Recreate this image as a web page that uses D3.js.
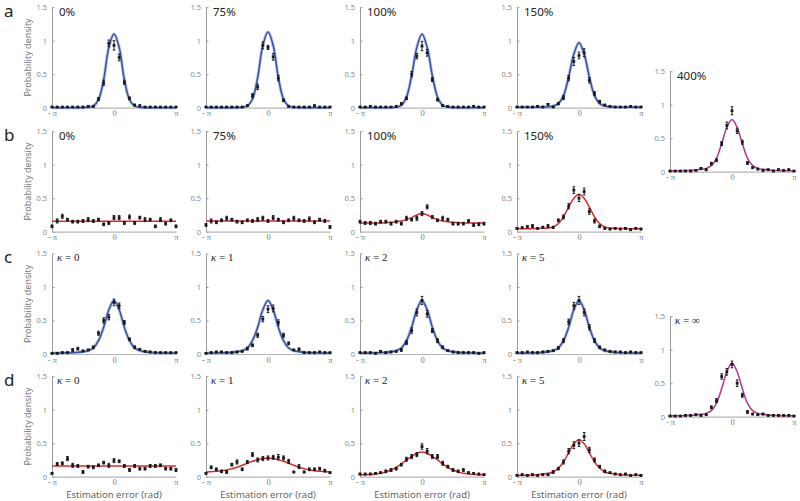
<!DOCTYPE html>
<html><head><meta charset="utf-8">
<script src="https://cdn.jsdelivr.net/npm/d3@7"></script>
<style>
body{margin:0;background:#fff;}
svg{display:block;}
</style></head>
<body>
<svg id="chart" width="800" height="501"></svg>
<script>
// ---------- DATA ----------
const xTickValues = [-Math.PI, 0, Math.PI];
const xTickLabels = ["- π", "0", "π"];
const yTickValues = [0, 0.5, 1, 1.5];
const yTickLabels = ["0", "0.5", "1", "1.5"];
// 25 bin centres from -π to π
const binCount = 25;
const bins = d3.range(binCount).map(i => -Math.PI + i * 2 * Math.PI / (binCount - 1));

const rowLetters = ["a", "b", "c", "d"];
const titlesAB = ["0%", "75%", "100%", "150%"];
const kappaValues = ["0", "1", "2", "5"];
const titleTop5 = "400%";
const kappaBot5 = "∞";
const yLabel = "Probability density";
const xLabel = "Estimation error (rad)";

// row a (blue)
const a0Pts = [0.01,0.01,0.01,0.01,0.01,0.01,0.01,0.02,0.02,0.13,0.37,0.96,0.93,0.75,0.38,0.14,0.04,0.03,0.01,0.01,0.01,0.01,0.01,0.01,0.01];
const a0Err = [0.005,0.005,0.005,0.005,0.005,0.005,0.005,0.01,0.01,0.02,0.04,0.05,0.07,0.05,0.03,0.02,0.01,0.01,0.005,0.005,0.005,0.005,0.005,0.005,0.005];
const a0Fit = [0,0,0,0,0,0,0.001,0.004,0.025,0.12,0.42,0.9,1.10,0.9,0.42,0.12,0.025,0.004,0.001,0,0,0,0,0,0];

const a1Pts = [0.01,0.01,0.01,0.01,0.01,0.01,0.01,0.01,0.03,0.18,0.31,0.93,0.90,0.76,0.44,0.11,0.02,0.01,0.01,0.01,0.01,0.03,0.01,0.01,0.01];
const a1Err = [0.005,0.005,0.005,0.005,0.005,0.005,0.005,0.005,0.01,0.03,0.04,0.05,0.03,0.05,0.04,0.02,0.01,0.005,0.005,0.005,0.005,0.01,0.005,0.005,0.005];
const a1Fit = [0,0,0,0,0,0,0.001,0.004,0.025,0.13,0.45,0.93,1.13,0.93,0.45,0.13,0.025,0.004,0.001,0,0,0,0,0,0];

const a2Pts = [0.01,0.01,0.02,0.01,0.01,0.01,0.01,0.02,0.06,0.14,0.50,0.77,0.92,0.82,0.42,0.12,0.03,0.02,0.01,0.01,0.01,0.01,0.02,0.01,0.01];
const a2Err = [0.005,0.005,0.01,0.005,0.005,0.005,0.005,0.01,0.015,0.02,0.04,0.04,0.07,0.05,0.03,0.02,0.01,0.01,0.005,0.005,0.005,0.005,0.01,0.005,0.005];
const a2Fit = [0,0,0,0,0,0,0.002,0.007,0.035,0.16,0.48,0.9,1.10,0.9,0.48,0.16,0.035,0.007,0.002,0,0,0,0,0,0];

const a3Pts = [0.01,0.01,0.01,0.01,0.02,0.01,0.05,0.01,0.06,0.15,0.44,0.69,0.78,0.82,0.41,0.21,0.09,0.04,0.02,0.01,0.01,0.01,0.02,0.01,0.01];
const a3Err = [0.005,0.005,0.005,0.005,0.01,0.005,0.01,0.005,0.015,0.03,0.04,0.06,0.05,0.06,0.04,0.03,0.02,0.01,0.01,0.005,0.005,0.005,0.01,0.005,0.005];
const a3Fit = [0.005,0.005,0.005,0.005,0.006,0.008,0.012,0.025,0.06,0.18,0.46,0.8,0.97,0.8,0.46,0.18,0.06,0.025,0.012,0.008,0.006,0.005,0.005,0.005,0.005];

// row b (red)
const b0Pts = [0.08,0.16,0.23,0.18,0.15,0.15,0.16,0.18,0.16,0.18,0.11,0.13,0.21,0.21,0.13,0.22,0.13,0.21,0.18,0.18,0.08,0.18,0.12,0.17,0.08];
const b0Err = [0.02,0.03,0.03,0.02,0.02,0.02,0.02,0.03,0.02,0.02,0.02,0.02,0.03,0.03,0.02,0.03,0.02,0.02,0.03,0.02,0.02,0.03,0.02,0.02,0.02];
const b0Fit = [0.155,0.155,0.155,0.155,0.155,0.155,0.155,0.155,0.155,0.155,0.155,0.155,0.155,0.155,0.155,0.155,0.155,0.155,0.155,0.155,0.155,0.155,0.155,0.155,0.155];

const b1Pts = [0.10,0.16,0.14,0.17,0.20,0.18,0.15,0.14,0.17,0.16,0.18,0.20,0.16,0.21,0.18,0.14,0.17,0.20,0.17,0.16,0.19,0.14,0.18,0.16,0.07];
const b1Err = [0.02,0.03,0.02,0.02,0.03,0.02,0.02,0.02,0.02,0.02,0.03,0.03,0.02,0.03,0.02,0.02,0.02,0.03,0.02,0.02,0.03,0.02,0.02,0.02,0.02];
const b1Fit = [0.16,0.16,0.16,0.16,0.16,0.16,0.16,0.16,0.16,0.16,0.16,0.16,0.16,0.16,0.16,0.16,0.16,0.16,0.16,0.16,0.16,0.16,0.16,0.16,0.16];

const b2Pts = [0.15,0.13,0.13,0.12,0.15,0.15,0.12,0.15,0.12,0.20,0.18,0.20,0.27,0.37,0.22,0.17,0.20,0.18,0.12,0.12,0.12,0.16,0.10,0.11,0.12];
const b2Err = [0.02,0.02,0.02,0.02,0.02,0.02,0.02,0.02,0.02,0.03,0.02,0.03,0.03,0.03,0.02,0.02,0.03,0.02,0.02,0.02,0.02,0.02,0.02,0.02,0.02];
const b2Fit = [0.13,0.13,0.13,0.13,0.13,0.135,0.14,0.15,0.16,0.18,0.21,0.25,0.27,0.25,0.21,0.18,0.16,0.15,0.14,0.135,0.13,0.13,0.13,0.13,0.13];

const b3Pts = [0.05,0.06,0.075,0.085,0.05,0.065,0.085,0.065,0.17,0.22,0.38,0.62,0.50,0.60,0.30,0.16,0.08,0.05,0.04,0.05,0.04,0.05,0.03,0.05,0.04];
const b3Err = [0.01,0.01,0.015,0.02,0.01,0.015,0.02,0.015,0.02,0.03,0.04,0.05,0.05,0.05,0.04,0.03,0.02,0.01,0.01,0.01,0.01,0.01,0.01,0.01,0.01];
const b3Fit = [0.045,0.045,0.045,0.046,0.048,0.05,0.055,0.07,0.12,0.22,0.37,0.5,0.56,0.5,0.37,0.22,0.12,0.07,0.055,0.05,0.048,0.046,0.045,0.045,0.045];

// row c (blue)
const c0Pts = [0.01,0.01,0.02,0.02,0.06,0.08,0.045,0.06,0.10,0.31,0.50,0.55,0.77,0.72,0.47,0.22,0.10,0.07,0.04,0.03,0.02,0.02,0.02,0.02,0.02];
const c0Err = [0.005,0.005,0.01,0.01,0.02,0.02,0.01,0.01,0.02,0.03,0.04,0.04,0.05,0.04,0.03,0.02,0.02,0.01,0.01,0.01,0.01,0.005,0.005,0.005,0.005];
const c0Fit = [0.015,0.015,0.016,0.018,0.02,0.025,0.035,0.05,0.09,0.2,0.4,0.66,0.8,0.66,0.4,0.2,0.09,0.05,0.035,0.025,0.02,0.018,0.016,0.015,0.015];

const c1Pts = [0.01,0.02,0.03,0.03,0.02,0.02,0.03,0.04,0.08,0.13,0.28,0.52,0.67,0.68,0.47,0.28,0.16,0.06,0.07,0.02,0.02,0.02,0.03,0.02,0.02];
const c1Err = [0.005,0.01,0.01,0.01,0.01,0.01,0.01,0.01,0.02,0.02,0.03,0.04,0.05,0.05,0.04,0.03,0.02,0.01,0.02,0.01,0.01,0.01,0.01,0.01,0.005];
const c1Fit = [0.015,0.015,0.016,0.018,0.02,0.025,0.035,0.05,0.09,0.2,0.4,0.66,0.8,0.66,0.4,0.2,0.09,0.05,0.035,0.025,0.02,0.018,0.016,0.015,0.015];

const c2Pts = [0.02,0.02,0.02,0.01,0.04,0.02,0.03,0.04,0.06,0.17,0.35,0.62,0.80,0.60,0.35,0.20,0.10,0.05,0.03,0.02,0.02,0.02,0.02,0.01,0.02];
const c2Err = [0.01,0.01,0.01,0.005,0.01,0.01,0.01,0.01,0.02,0.03,0.04,0.05,0.06,0.05,0.03,0.03,0.02,0.01,0.01,0.01,0.01,0.01,0.01,0.005,0.01];
const c2Fit = [0.015,0.015,0.016,0.018,0.02,0.025,0.035,0.05,0.09,0.2,0.4,0.66,0.8,0.66,0.4,0.2,0.09,0.05,0.035,0.025,0.02,0.018,0.016,0.015,0.015];

const c3Pts = [0.02,0.02,0.03,0.02,0.02,0.03,0.04,0.05,0.09,0.20,0.48,0.72,0.80,0.62,0.40,0.20,0.10,0.06,0.04,0.03,0.03,0.02,0.03,0.02,0.02];
const c3Err = [0.01,0.01,0.01,0.01,0.01,0.01,0.01,0.01,0.02,0.03,0.04,0.05,0.06,0.05,0.04,0.03,0.02,0.01,0.01,0.01,0.01,0.01,0.01,0.01,0.01];
const c3Fit = [0.015,0.015,0.016,0.018,0.02,0.025,0.035,0.05,0.09,0.2,0.4,0.66,0.8,0.66,0.4,0.2,0.09,0.05,0.035,0.025,0.02,0.018,0.016,0.015,0.015];

// row d (red)
const d0Pts = [0.05,0.19,0.20,0.27,0.17,0.16,0.07,0.15,0.14,0.17,0.21,0.17,0.24,0.23,0.16,0.10,0.16,0.12,0.12,0.16,0.16,0.17,0.12,0.12,0.10];
const d0Err = [0.01,0.02,0.02,0.03,0.03,0.02,0.02,0.02,0.02,0.02,0.02,0.03,0.03,0.02,0.02,0.02,0.02,0.02,0.02,0.02,0.02,0.02,0.02,0.02,0.02];
const d0Fit = [0.16,0.16,0.16,0.16,0.16,0.16,0.16,0.16,0.16,0.16,0.16,0.16,0.16,0.16,0.16,0.16,0.16,0.16,0.16,0.16,0.16,0.16,0.16,0.16,0.16];

const d1Pts = [0.05,0.14,0.11,0.08,0.07,0.18,0.22,0.11,0.22,0.33,0.25,0.27,0.28,0.29,0.29,0.28,0.23,0.07,0.15,0.07,0.11,0.11,0.12,0.09,0.06];
const d1Err = [0.01,0.02,0.02,0.02,0.02,0.02,0.03,0.02,0.02,0.03,0.03,0.03,0.03,0.03,0.04,0.03,0.03,0.01,0.03,0.01,0.02,0.02,0.02,0.02,0.01];
const d1Fit = [0.07,0.075,0.08,0.09,0.10,0.12,0.14,0.17,0.20,0.23,0.255,0.27,0.275,0.27,0.255,0.23,0.20,0.17,0.14,0.12,0.10,0.09,0.08,0.075,0.07];

const d2Pts = [0.04,0.04,0.04,0.05,0.06,0.08,0.10,0.12,0.18,0.26,0.30,0.33,0.45,0.38,0.30,0.30,0.20,0.15,0.10,0.08,0.10,0.06,0.05,0.04,0.03];
const d2Err = [0.01,0.01,0.01,0.01,0.01,0.02,0.02,0.02,0.02,0.03,0.03,0.03,0.04,0.04,0.03,0.03,0.03,0.02,0.02,0.02,0.02,0.01,0.01,0.01,0.01];
const d2Fit = [0.03,0.03,0.035,0.04,0.05,0.07,0.10,0.14,0.19,0.25,0.30,0.35,0.37,0.35,0.30,0.25,0.19,0.14,0.10,0.07,0.05,0.04,0.035,0.03,0.03];

const d3Pts = [0.02,0.03,0.02,0.03,0.02,0.03,0.03,0.07,0.12,0.22,0.38,0.47,0.50,0.60,0.40,0.25,0.15,0.08,0.06,0.04,0.03,0.04,0.02,0.03,0.02];
const d3Err = [0.01,0.01,0.01,0.01,0.01,0.01,0.01,0.02,0.02,0.03,0.04,0.05,0.05,0.06,0.04,0.03,0.02,0.02,0.01,0.01,0.01,0.01,0.01,0.01,0.01];
const d3Fit = [0.02,0.02,0.022,0.025,0.03,0.04,0.05,0.07,0.13,0.22,0.36,0.49,0.55,0.49,0.36,0.22,0.13,0.07,0.05,0.04,0.03,0.025,0.022,0.02,0.02];

// column 5 (magenta)
const eTopPts = [0.01,0.01,0.01,0.01,0.01,0.02,0.05,0.03,0.12,0.17,0.42,0.69,0.91,0.61,0.44,0.13,0.06,0.04,0.02,0.03,0.01,0.03,0.02,0.03,0.01];
const eTopErr = [0.005,0.005,0.005,0.005,0.005,0.01,0.01,0.01,0.02,0.02,0.03,0.05,0.06,0.04,0.03,0.02,0.01,0.01,0.01,0.01,0.005,0.01,0.01,0.01,0.005];
const eTopFit = [0.015,0.015,0.016,0.018,0.02,0.025,0.035,0.05,0.09,0.2,0.42,0.66,0.78,0.66,0.42,0.2,0.09,0.05,0.035,0.025,0.02,0.018,0.016,0.015,0.015];

const eBotPts = [0.01,0.01,0.01,0.02,0.02,0.03,0.02,0.03,0.14,0.24,0.60,0.67,0.78,0.50,0.32,0.07,0.04,0.03,0.04,0.02,0.02,0.02,0.02,0.02,0.01];
const eBotErr = [0.005,0.005,0.005,0.01,0.01,0.01,0.01,0.01,0.02,0.03,0.04,0.05,0.05,0.05,0.03,0.02,0.01,0.01,0.01,0.01,0.01,0.01,0.01,0.01,0.005];
const eBotFit = [0.015,0.015,0.016,0.018,0.02,0.025,0.035,0.05,0.09,0.2,0.42,0.67,0.8,0.67,0.42,0.2,0.09,0.05,0.035,0.025,0.02,0.018,0.016,0.015,0.015];

// ---------- STYLE / LAYOUT ----------
const BLUE = "#3a51a2", BLUE_BAND = "#bcc6ea", RED = "#e02a2e", MAGENTA = "#b2388d";
const colX = [52, 206, 360, 517, 670];
const rowY0 = [107.7, 231.7, 354, 476.7];
const col5Y0 = [171.7, 416.7];
const PW = 124, PH = 100.5;

const panels = [
  {col:0,row:0,title:titlesAB[0],color:BLUE,band:true,pts:a0Pts,err:a0Err,fit:a0Fit},
  {col:1,row:0,title:titlesAB[1],color:BLUE,band:true,pts:a1Pts,err:a1Err,fit:a1Fit},
  {col:2,row:0,title:titlesAB[2],color:BLUE,band:true,pts:a2Pts,err:a2Err,fit:a2Fit},
  {col:3,row:0,title:titlesAB[3],color:BLUE,band:true,pts:a3Pts,err:a3Err,fit:a3Fit},
  {col:0,row:1,title:titlesAB[0],color:RED,band:false,pts:b0Pts,err:b0Err,fit:b0Fit},
  {col:1,row:1,title:titlesAB[1],color:RED,band:false,pts:b1Pts,err:b1Err,fit:b1Fit},
  {col:2,row:1,title:titlesAB[2],color:RED,band:false,pts:b2Pts,err:b2Err,fit:b2Fit},
  {col:3,row:1,title:titlesAB[3],color:RED,band:false,pts:b3Pts,err:b3Err,fit:b3Fit},
  {col:0,row:2,kappa:kappaValues[0],color:BLUE,band:true,pts:c0Pts,err:c0Err,fit:c0Fit},
  {col:1,row:2,kappa:kappaValues[1],color:BLUE,band:true,pts:c1Pts,err:c1Err,fit:c1Fit},
  {col:2,row:2,kappa:kappaValues[2],color:BLUE,band:true,pts:c2Pts,err:c2Err,fit:c2Fit},
  {col:3,row:2,kappa:kappaValues[3],color:BLUE,band:true,pts:c3Pts,err:c3Err,fit:c3Fit},
  {col:0,row:3,kappa:kappaValues[0],color:RED,band:false,pts:d0Pts,err:d0Err,fit:d0Fit},
  {col:1,row:3,kappa:kappaValues[1],color:RED,band:false,pts:d1Pts,err:d1Err,fit:d1Fit},
  {col:2,row:3,kappa:kappaValues[2],color:RED,band:false,pts:d2Pts,err:d2Err,fit:d2Fit},
  {col:3,row:3,kappa:kappaValues[3],color:RED,band:false,pts:d3Pts,err:d3Err,fit:d3Fit},
  {col:4,row:-1,y0:col5Y0[0],title:titleTop5,color:MAGENTA,band:false,pts:eTopPts,err:eTopErr,fit:eTopFit},
  {col:4,row:-2,y0:col5Y0[1],kappa:kappaBot5,color:MAGENTA,band:false,pts:eBotPts,err:eBotErr,fit:eBotFit}
];

const svg = d3.select("#chart");
const SANS = "'Noto Sans', 'Open Sans', sans-serif";
const SERIF = "'Liberation Serif', 'DejaVu Serif', serif";

// row letters
rowLetters.forEach((L, r) => {
  svg.append("text").attr("x", 4).attr("y", rowY0[r] - 91)
    .attr("font-family", SANS).attr("font-size", 17).attr("fill", "#222").text(L);
});

panels.forEach(p => {
  const x0 = colX[p.col];
  const yBase = p.row >= 0 ? rowY0[p.row] : p.y0;
  const x = d3.scaleLinear().domain([-Math.PI, Math.PI]).range([x0, x0 + PW]);
  const y = d3.scaleLinear().domain([0, 1.5]).range([yBase, yBase - PH]);
  const g = svg.append("g");

  // y axis
  const ya = g.append("g").attr("transform", `translate(${x0},0)`)
    .call(d3.axisLeft(y).tickValues(yTickValues).tickSize(-2.5).tickSizeOuter(0).tickPadding(5)
      .tickFormat((d, i) => yTickLabels[i]));
  ya.select(".domain").attr("stroke", "#9a9a9a");
  ya.selectAll(".tick line").attr("stroke", "#9a9a9a");
  ya.selectAll(".tick text").attr("fill", "#8a8a8a").attr("font-size", 7.5).attr("font-family", SANS);

  // x axis
  const xa = g.append("g").attr("transform", `translate(0,${yBase})`)
    .call(d3.axisBottom(x).tickValues(xTickValues).tickSize(0).tickSizeOuter(0).tickPadding(2.5)
      .tickFormat((d, i) => xTickLabels[i]));
  xa.select(".domain").attr("stroke", "#b5b5b5").attr("stroke-width", 1.2);
  xa.selectAll(".tick text").attr("fill", "#7a7a7a").attr("font-size", 8.5).attr("font-family", SERIF);

  // title
  if (p.title) {
    g.append("text").attr("x", x0 + 7).attr("y", y(1.5) + 8.5)
      .attr("font-family", SANS).attr("font-size", 11.5).attr("fill", "#222").text(p.title);
  } else {
    const t = g.append("text").attr("x", x0 + 5).attr("y", y(1.5) + 7.5)
      .attr("font-family", SERIF).attr("font-size", 11).attr("fill", "#222");
    t.append("tspan").attr("font-style", "italic").text("κ");
    t.append("tspan").text(" = " + p.kappa);
  }

  // fit curve
  const line = d3.line().x((d, i) => x(bins[i])).y(d => y(d)).curve(d3.curveCatmullRom.alpha(0.5));
  if (p.band) {
    g.append("path").attr("d", line(p.fit)).attr("fill", "none")
      .attr("stroke", BLUE_BAND).attr("stroke-width", 3.2).attr("stroke-linejoin", "round");
  }
  g.append("path").attr("d", line(p.fit)).attr("fill", "none")
    .attr("stroke", p.color).attr("stroke-width", 1.5);

  // error bars
  const eb = g.append("g").attr("stroke", "#1a1a1a").attr("stroke-width", 1);
  p.pts.forEach((v, i) => {
    const cx = x(bins[i]), e = p.err[i];
    const yt = y(v + e), yb = y(v - e);
    eb.append("line").attr("x1", cx).attr("x2", cx).attr("y1", yt).attr("y2", yb);
    eb.append("line").attr("x1", cx - 1.3).attr("x2", cx + 1.3).attr("y1", yt).attr("y2", yt);
    eb.append("line").attr("x1", cx - 1.3).attr("x2", cx + 1.3).attr("y1", yb).attr("y2", yb);
  });
  g.append("g").selectAll("rect").data(p.pts).join("rect")
    .attr("x", (d, i) => x(bins[i]) - 1.4).attr("y", d => y(d) - 1.4)
    .attr("width", 2.8).attr("height", 2.8).attr("fill", "#1a1a1a");

  // y label on first column
  if (p.col === 0) {
    g.append("text").attr("transform", `translate(31,${yBase - PH / 2}) rotate(-90)`)
      .attr("text-anchor", "middle").attr("font-family", SANS).attr("font-size", 9)
      .attr("fill", "#777").text(yLabel);
  }
  // x label on bottom row
  if (p.row === 3) {
    g.append("text").attr("x", x(0)).attr("y", yBase + 21.3).attr("text-anchor", "middle")
      .attr("font-family", SANS).attr("font-size", 9.5).attr("fill", "#666").text(xLabel);
  }
});
</script>
</body></html>
